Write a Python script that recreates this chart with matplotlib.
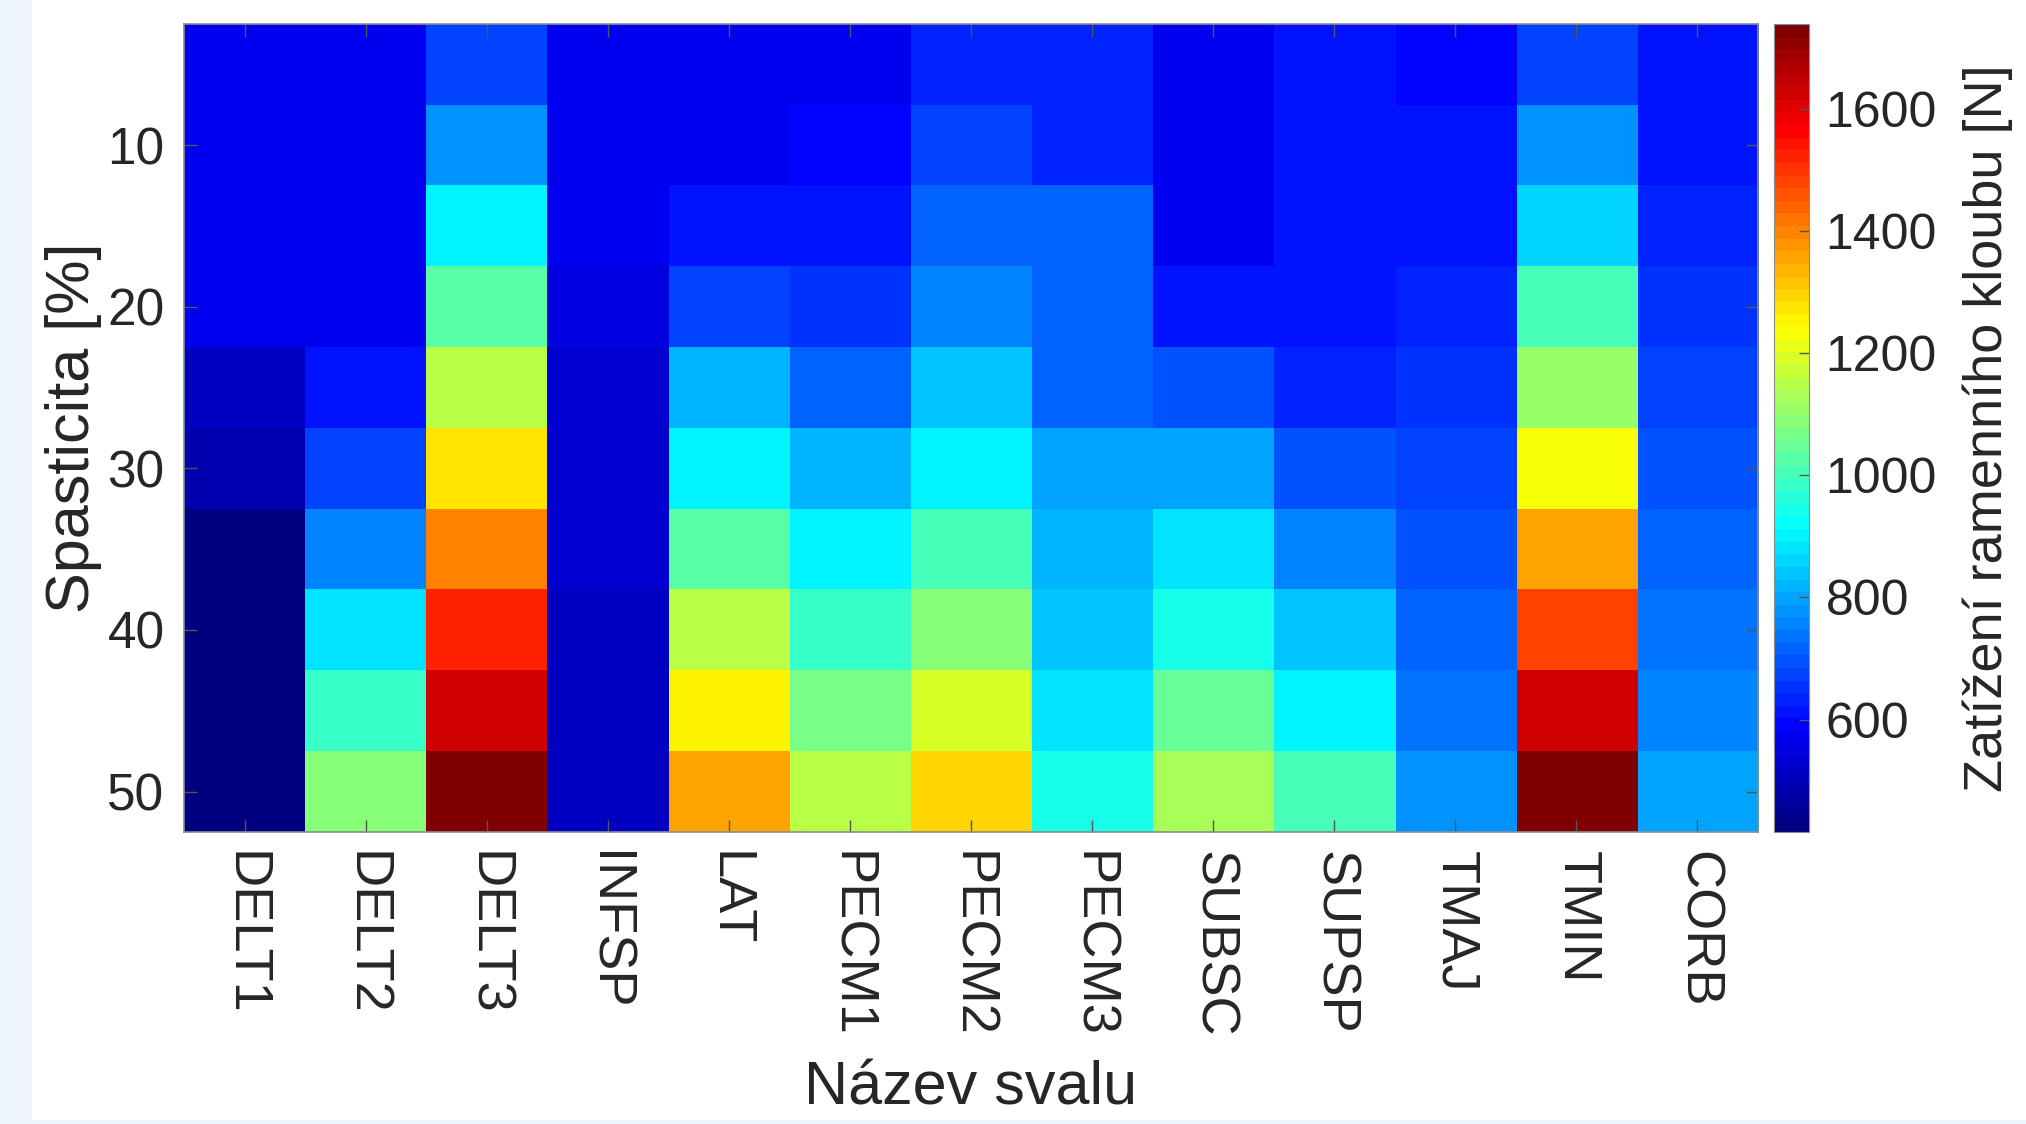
import numpy as np
import matplotlib
matplotlib.use("Agg")
from matplotlib import pyplot as plt
from matplotlib.colors import LinearSegmentedColormap
from matplotlib.patches import Rectangle


muscles = ['DELT1', 'DELT2', 'DELT3', 'INFSP', 'LAT', 'PECM1', 'PECM2',
           'PECM3', 'SUBSC', 'SUPSP', 'TMAJ', 'TMIN', 'CORB']
spasticity = [5, 10, 15, 20, 25, 30, 35, 40, 45, 50]

# joint load [N], one list per muscle, rows = spasticity 5..50 %
delt1 = [575, 575, 575, 575, 509, 482, 430, 420, 418, 416]
delt2 = [575, 575, 575, 575, 608, 671, 763, 873, 978, 1078]
delt3 = [678, 782, 912, 1022, 1140, 1269, 1391, 1514, 1620, 1739]
infsp = [575, 575, 575, 548, 530, 525, 520, 515, 512, 510]
lat = [578, 578, 621, 678, 809, 912, 1022, 1140, 1243, 1366]
pecm1 = [578, 590, 621, 648, 718, 809, 892, 978, 1062, 1140]
pecm2 = [628, 671, 718, 763, 834, 912, 1000, 1080, 1184, 1296]
pecm3 = [628, 640, 713, 718, 725, 789, 827, 846, 885, 938]
subsc = [578, 578, 578, 621, 698, 789, 873, 952, 1042, 1120]
supsp = [608, 608, 608, 612, 632, 705, 763, 846, 912, 998]
tmaj = [600, 612, 621, 640, 650, 678, 705, 725, 745, 770]
tmin = [678, 782, 866, 998, 1107, 1223, 1352, 1474, 1620, 1739]
corb = [608, 621, 640, 650, 665, 690, 711, 738, 757, 789]

cbar_ticks = [600, 800, 1000, 1200, 1400, 1600]
y_ticks = [10, 20, 30, 40, 50]

W, H = 2026, 1124
FONT = ['Liberation Sans', 'DejaVu Sans']
plt.rcParams['font.family'] = FONT
TXT = '#262626'

# matlab style jet, 64 levels
mjet = LinearSegmentedColormap('mjet', {
    'red':   [(0, 0, 0), (3 / 8, 0, 0), (5 / 8, 1, 1), (7 / 8, 1, 1), (1, .5, .5)],
    'green': [(0, 0, 0), (1 / 8, 0, 0), (3 / 8, 1, 1), (5 / 8, 1, 1), (7 / 8, 0, 0), (1, 0, 0)],
    'blue':  [(0, .5, .5), (1 / 8, 1, 1), (3 / 8, 1, 1), (5 / 8, 0, 0), (1, 0, 0)],
}, N=64)

data = np.array([delt1, delt2, delt3, infsp, lat, pecm1, pecm2,
                 pecm3, subsc, supsp, tmaj, tmin, corb]).T

fig = plt.figure(figsize=(W / 100, H / 100), dpi=100)
fig.patch.set_facecolor('white')

# light blue slide border
fig.patches.append(Rectangle((0, 0), 32 / W, 1, transform=fig.transFigure,
                             facecolor='#edf5fb', edgecolor='none', zorder=-1))
fig.patches.append(Rectangle((0, 0), 1, 4 / H, transform=fig.transFigure,
                             facecolor='#edf5fb', edgecolor='none', zorder=-1))

ax = fig.add_axes([184 / W, (H - 832) / H, (1758 - 184) / W, (832 - 24) / H])
im = ax.imshow(data, cmap=mjet, aspect='auto', interpolation='nearest',
               extent=[0.5, len(muscles) + 0.5, 52.5, 2.5])

ax.set_xticks(np.arange(1, len(muscles) + 1))
ax.set_xticklabels(muscles, rotation=-90, fontsize=39, color=TXT)
ax.set_yticks(y_ticks)
ax.set_yticklabels([str(v) for v in y_ticks], fontsize=37, color=TXT)
ax.tick_params(axis='both', direction='in', length=9, width=1,
               color='#555555', top=True, right=True)
ax.tick_params(axis='x', pad=14)
ax.tick_params(axis='y', pad=14)
for s in ax.spines.values():
    s.set_color('#8c8c8c')
    s.set_linewidth(1.2)

ax.set_xlabel('Název svalu', fontsize=44, color=TXT, labelpad=16)
ax.set_ylabel('Spasticita [%]', fontsize=44, color=TXT, labelpad=4)

cax = fig.add_axes([1774 / W, (H - 832) / H, 35 / W, (832 - 24) / H])
cb = fig.colorbar(im, cax=cax)
cb.set_ticks(cbar_ticks)
cb.ax.tick_params(direction='in', length=7, width=1, color='#555555',
                  labelsize=36, labelcolor=TXT, pad=12)
cb.outline.set_edgecolor('#8c8c8c')
cb.set_label('Zatížení ramenního kloubu [N]', fontsize=39, color=TXT,
             labelpad=18)

fig.savefig('out.png', dpi=100)
